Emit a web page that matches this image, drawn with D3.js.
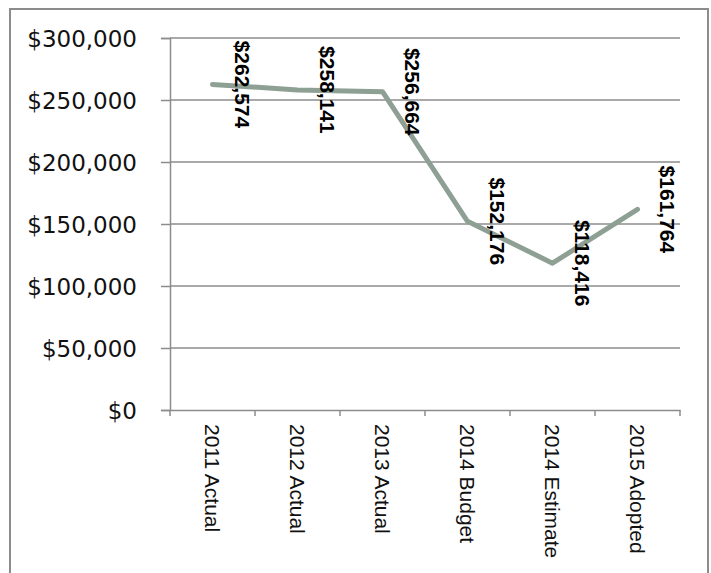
<!DOCTYPE html>
<html><head><meta charset="utf-8">
<script src="https://cdn.jsdelivr.net/npm/d3@7"></script>
<style>body{margin:0;background:#fff;}svg{display:block;}</style>
</head><body>
<svg id="c" width="711" height="573"></svg>
<script>
const categories = ["2011 Actual","2012 Actual","2013 Actual","2014 Budget","2014 Estimate","2015 Adopted"];
const values = [262574, 258141, 256664, 152176, 118416, 161764];
const yTicks = [0, 50000, 100000, 150000, 200000, 250000, 300000];

const svg = d3.select("#c");
const m = {left: 170, top: 38, right: 680, bottom: 410};

// outer border
svg.append("rect").attr("x", 10).attr("y", 9).attr("width", 698).attr("height", 580)
  .attr("fill", "none").attr("stroke", "#8c8c8c").attr("stroke-width", 2);

const x = d3.scaleBand().domain(categories).range([m.left, m.right]);
const y = d3.scaleLinear().domain([0, 300000]).range([m.bottom, m.top]);

// gridlines
svg.append("g").selectAll("line").data(yTicks.filter(d => d > 0)).join("line")
  .attr("x1", m.left).attr("x2", m.right)
  .attr("y1", d => y(d)).attr("y2", d => y(d))
  .attr("stroke", "#8c8c8c").attr("stroke-width", 1.5);

const fmt = d3.format("$,");

// y axis
const ya = svg.append("g").attr("transform", `translate(${m.left},0)`)
  .call(d3.axisLeft(y).tickValues(yTicks).tickFormat(fmt).tickSize(9).tickPadding(24));
ya.select(".domain").attr("stroke", "#8c8c8c").attr("stroke-width", 1.5);
ya.selectAll(".tick line").attr("stroke", "#8c8c8c").attr("stroke-width", 1.5);
ya.selectAll("text").attr("font-family", "'DejaVu Sans', sans-serif").attr("font-size", 23)
  .attr("fill", "#111").attr("dy", "0.36em");

// x axis
const xa = svg.append("g").attr("transform", `translate(0,${m.bottom})`)
  .call(d3.axisBottom(x).tickSize(0).tickFormat(""));
xa.select(".domain").attr("stroke", "#8c8c8c").attr("stroke-width", 1.5);
xa.selectAll(".tick").remove();
const bounds = categories.map(c => x(c)).concat([m.right]);
xa.selectAll("line.t").data(bounds).join("line").attr("class", "t")
  .attr("x1", d => d).attr("x2", d => d).attr("y1", 0).attr("y2", 6)
  .attr("stroke", "#8c8c8c").attr("stroke-width", 1.5);

svg.append("g").selectAll("text").data(categories).join("text")
  .attr("transform", d => `translate(${x(d) + x.bandwidth() / 2},424) rotate(90)`)
  .attr("dy", "0.35em")
  .attr("font-family", "'Liberation Sans', Arial, sans-serif").attr("font-size", 21)
  .attr("fill", "#111").text(d => d);

// line
const line = d3.line().x((d, i) => x(categories[i]) + x.bandwidth() / 2).y(d => y(d));
svg.append("path").datum(values).attr("d", line)
  .attr("fill", "none").attr("stroke", "#8e9f94").attr("stroke-width", 5)
  .attr("stroke-linejoin", "round").attr("stroke-linecap", "round");

// data labels
svg.append("g").selectAll("text").data(values).join("text")
  .attr("transform", (d, i) => `translate(${x(categories[i]) + x.bandwidth() / 2 + 30},${y(d)}) rotate(90)`)
  .attr("text-anchor", "middle").attr("dy", "0.35em")
  .attr("font-family", "'Liberation Sans', Arial, sans-serif").attr("font-size", 21)
  .attr("font-weight", "bold").attr("fill", "#000").text(d => fmt(d));
</script>
</body></html>
